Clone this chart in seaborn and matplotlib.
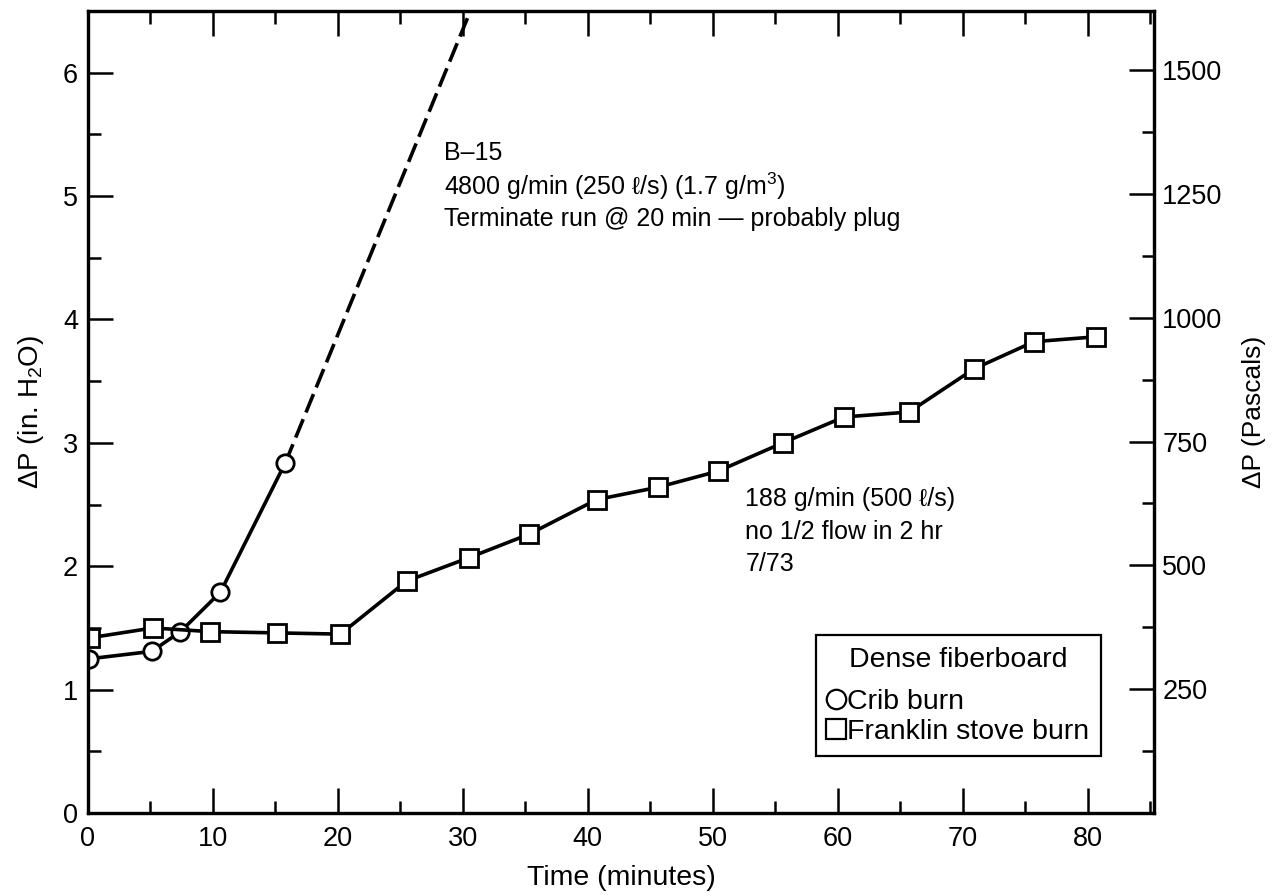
import numpy as np
import pandas as pd
import matplotlib
matplotlib.use("Agg")
import matplotlib.pyplot as plt
from matplotlib.lines import Line2D
from matplotlib.ticker import MultipleLocator
import seaborn as sns

# data (time in minutes, pressure drop in inches of water)
crib_time = [0.1, 5.1, 7.4, 10.6, 15.8]
crib_dp = [1.25, 1.31, 1.47, 1.79, 2.84]

# extrapolated part of the crib run (dashed)
crib_ext_time = [15.8, 30.6]
crib_ext_dp = [2.84, 6.5]

stove_time = [0.15, 5.2, 9.8, 15.1, 20.2, 25.5, 30.5, 35.3, 40.7, 45.6,
              50.4, 55.6, 60.5, 65.7, 70.9, 75.7, 80.7]
stove_dp = [1.42, 1.50, 1.47, 1.46, 1.45, 1.88, 2.07, 2.26, 2.54, 2.64,
            2.77, 3.00, 3.21, 3.25, 3.60, 3.82, 3.86]

x_ticks = [0, 10, 20, 30, 40, 50, 60, 70, 80]
y_ticks = [0, 1, 2, 3, 4, 5, 6]
pa_ticks = [250, 500, 750, 1000, 1250, 1500]

PA_PER_INH2O = 249.1

sns.set_theme(style="ticks")
plt.rcParams["font.family"] = ["Liberation Sans", "DejaVu Sans"]
plt.rcParams["mathtext.fontset"] = "custom"
plt.rcParams["mathtext.rm"] = "Liberation Sans"
plt.rcParams["mathtext.it"] = "Liberation Sans:italic"
for key in ["text.color", "axes.labelcolor", "xtick.color", "ytick.color",
            "axes.edgecolor"]:
    plt.rcParams[key] = "black"

crib_df = pd.DataFrame({"time": crib_time, "dp": crib_dp})
stove_df = pd.DataFrame({"time": stove_time, "dp": stove_dp})

fig = plt.figure(figsize=(12.73, 8.96), dpi=100)
ax = fig.add_axes([0.0691, 0.0926, 0.8374, 0.8951])

line_kw = dict(color="black", linewidth=2.6, markersize=12.5,
               markerfacecolor="white", markeredgecolor="black",
               markeredgewidth=2.0)

# dashed extrapolation first so the circle sits on top
sns.lineplot(x=crib_ext_time, y=crib_ext_dp, ax=ax, color="black",
             linewidth=2.6, linestyle=(0, (5.5, 2)))
sns.lineplot(data=crib_df, x="time", y="dp", ax=ax, marker="o", **line_kw)
sns.lineplot(data=stove_df, x="time", y="dp", ax=ax, marker="s", **line_kw)

ax.set_xlim(0, 85.3)
ax.set_ylim(0, 6.5)
ax.set_xticks(x_ticks)
ax.set_yticks(y_ticks)
ax.xaxis.set_minor_locator(MultipleLocator(5))
ax.yaxis.set_minor_locator(MultipleLocator(0.5))
ax.tick_params(axis="both", which="major", direction="in", length=18,
               width=1.8, labelsize=19.5)
ax.tick_params(axis="both", which="minor", direction="in", length=9, width=1.8)
ax.tick_params(axis="x", which="both", top=True, pad=9)
ax.tick_params(axis="y", which="both", right=False, pad=7)

ax.set_xlabel("Time (minutes)", fontsize=20.5, labelpad=10)
ax.set_ylabel("ΔP (in. H$_2$O)", fontsize=20, labelpad=12)

for sp in ax.spines.values():
    sp.set_linewidth(2.3)

# right axis in Pascals
ax2 = ax.twinx()
ax2.set_ylim(0, 6.5 * PA_PER_INH2O)
ax2.set_yticks(pa_ticks)
ax2.yaxis.set_minor_locator(MultipleLocator(125))
ax2.tick_params(axis="y", which="major", direction="in", length=18,
                width=1.8, labelsize=19.5, pad=6)
ax2.tick_params(axis="y", which="minor", direction="in", length=9, width=1.8)
ax2.set_ylabel("ΔP (Pascals)", fontsize=19, labelpad=14)
for sp in ax2.spines.values():
    sp.set_linewidth(2.3)

# notes on the plot
ax.text(28.5, 5.45, "B–15\n4800 g/min (250 ℓ/s) (1.7 g/m$^3$)\n"
        "Terminate run @ 20 min — probably plug",
        fontsize=18, va="top", ha="left", linespacing=1.25)
ax.text(52.6, 2.64, "188 g/min (500 ℓ/s)\nno 1/2 flow in 2 hr\n7/73",
        fontsize=18, va="top", ha="left", linespacing=1.45)

handles = [
    Line2D([], [], marker="o", linestyle="none", markersize=14,
           markerfacecolor="white", markeredgecolor="black", markeredgewidth=1.6),
    Line2D([], [], marker="s", linestyle="none", markersize=14,
           markerfacecolor="white", markeredgecolor="black", markeredgewidth=1.6),
]
leg = ax.legend(handles, ["Crib burn", "Franklin stove burn"],
                title="Dense fiberboard", loc="lower left",
                bbox_to_anchor=(0.683, 0.071), borderaxespad=0,
                fontsize=20.5, title_fontsize=20.5,
                handlelength=0.6, handletextpad=0.1, labelspacing=0.12,
                borderpad=0.4, frameon=True, fancybox=False, framealpha=1)
leg.get_frame().set_edgecolor("black")
leg.get_frame().set_linewidth(1.6)
leg._legend_box.sep = 12

fig.savefig("out.png", dpi=100)
